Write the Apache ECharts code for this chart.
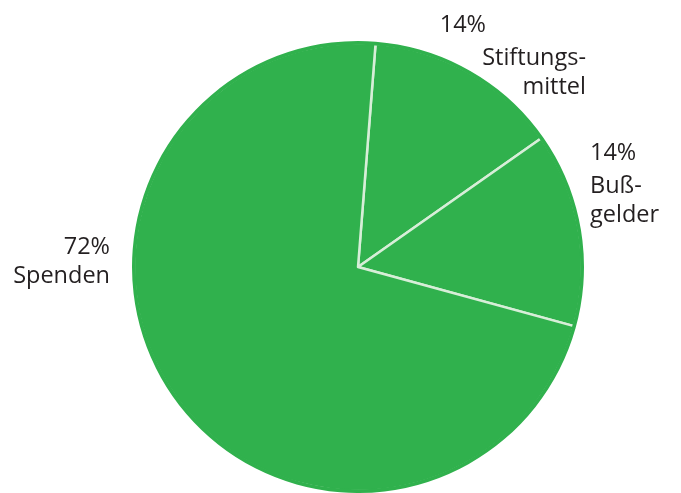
<!DOCTYPE html>
<html>
<head>
<meta charset="utf-8">
<script src="https://cdn.jsdelivr.net/npm/echarts@6/dist/echarts.min.js"></script>
<style>html,body{margin:0;padding:0;background:#fff}#c{width:681px;height:493px}</style>
</head>
<body>
<div id="c"></div>
<script>
// Data
var categories = ['Stiftungs-\nmittel', 'Buß-\ngelder', 'Spenden'];
var values = [14, 14, 72];
var pctLabels = ['14%', '14%', '72%'];

// Label placement (style only)
var labelPos = [
  {x: 586, y: 6, align: 'right'},
  {x: 590, y: 134, align: 'left'},
  {x: 110, y: 232, align: 'right'}
];

var chart = echarts.init(document.getElementById('c'), null, {renderer: 'canvas'});
var font = '"Open Sans", "DejaVu Sans", sans-serif';
var txt = '#231f20';
var green = '#30b14d';
var fs = 23.5;

var pieData = categories.map(function (c, i) { return {name: c, value: values[i]}; });

chart.setOption({
  animation: false,
  backgroundColor: '#ffffff',
  series: [{
    type: 'pie',
    center: [358, 267],
    radius: [0, 224],
    startAngle: 85.5,
    clockwise: true,
    silent: true,
    itemStyle: {color: green, borderColor: '#d7eed8', borderWidth: 2.5},
    labelLine: {show: false},
    label: {
      show: true,
      position: 'outside',
      overflow: 'none',
      fontFamily: font,
      fontSize: fs,
      color: txt,
      formatter: function (p) {
        var lines = categories[p.dataIndex].split('\n');
        var k = ['a', 'b', 'c'][p.dataIndex];
        return '{p' + k + '|' + pctLabels[p.dataIndex] + '}\n' +
          lines.map(function (l) { return '{n' + k + '|' + l + '}'; }).join('\n');
      },
      rich: {
        pa: {fontFamily: font, fontSize: fs, color: txt, lineHeight: 38, align: 'left', padding: [0, 100, 0, 0]},
        na: {fontFamily: font, fontSize: fs, color: txt, lineHeight: 29, align: 'right'},
        pb: {fontFamily: font, fontSize: fs, color: txt, lineHeight: 38, align: 'left'},
        nb: {fontFamily: font, fontSize: fs, color: txt, lineHeight: 29, align: 'left'},
        pc: {fontFamily: font, fontSize: fs, color: txt, lineHeight: 30, align: 'right'},
        nc: {fontFamily: font, fontSize: fs, color: txt, lineHeight: 29, align: 'right'}
      }
    },
    labelLayout: function (params) {
      var lp = labelPos[params.dataIndex];
      return {x: lp.x, y: lp.y, align: lp.align, verticalAlign: 'top'};
    },
    data: pieData
  }, {
    // outer rim cover so separators don't outline the circle
    type: 'pie',
    center: [358, 267],
    radius: [222.3, 226],
    startAngle: 85.5,
    silent: true,
    itemStyle: {color: green, borderWidth: 0},
    label: {show: false},
    labelLine: {show: false},
    data: [{name: 'rim', value: 1}]
  }]
});
</script>
</body>
</html>
